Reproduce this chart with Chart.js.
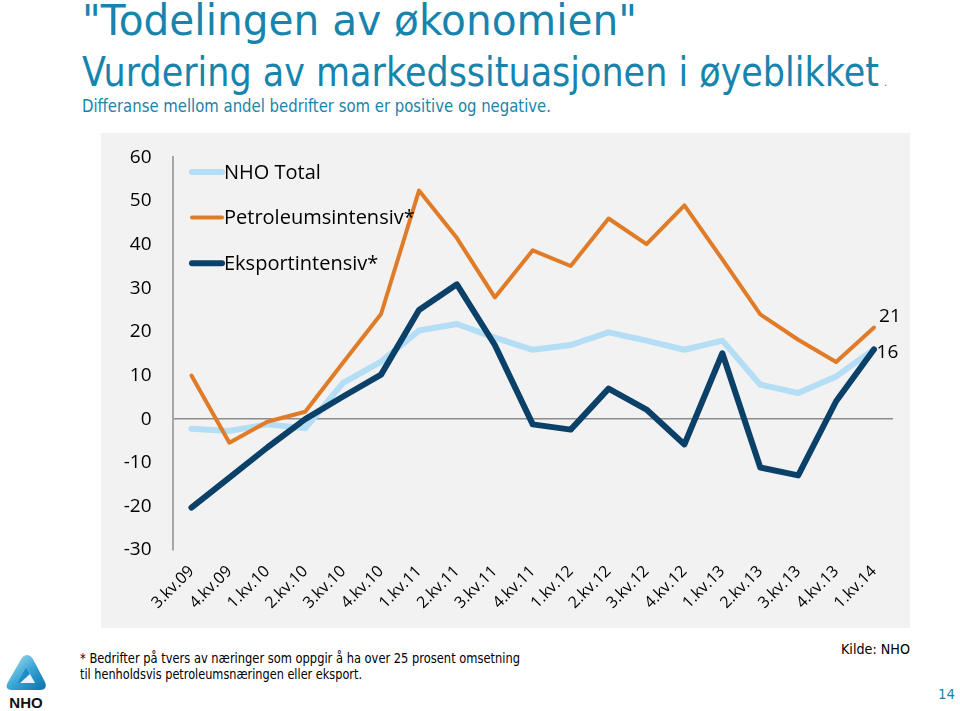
<!DOCTYPE html>
<html>
<head>
<meta charset="utf-8">
<script src="https://cdn.jsdelivr.net/npm/chart.js@4.4.1/dist/chart.umd.min.js"></script>
<style>
  html, body { margin:0; padding:0; background:#fff; }
  body { width:960px; height:711px; position:relative; overflow:hidden; }
  .t { position:absolute; white-space:nowrap; transform-origin:left top; font-family:"DejaVu Sans", Verdana, sans-serif; }
  #chartBox { position:absolute; left:101px; top:133px; width:809px; height:495px; background:#f2f2f2; }
  #chartBox canvas { display:block; position:absolute; left:0; top:-8px; }
  #logo { position:absolute; left:3px; top:652px; width:46px; height:60px; }
</style>
</head>
<body>
<div class="t" data-w="555" style="left:82px; top:0px; font-size:42px; line-height:42px; color:#1784ae;">"Todelingen av økonomien"</div>
<div class="t" data-w="797" style="left:82px; top:52px; font-size:41px; line-height:41px; color:#1784ae;">Vurdering av markedssituasjonen i øyeblikket</div>
<div class="t" style="left:884px; top:78px; font-size:10px; line-height:10px; color:#1784ae;">.</div>
<div class="t" data-w="469" style="left:82px; top:97px; font-size:18px; line-height:18px; color:#1784ae;">Differanse mellom andel bedrifter som er positive og negative.</div>

<div id="chartBox"><canvas id="c" width="809" height="503"></canvas></div>

<div class="t" data-w="440" style="left:80px; top:651px; font-size:14px; line-height:14px; color:#000;">* Bedrifter på tvers av næringer som oppgir å ha over 25 prosent omsetning</div>
<div class="t" data-w="282" style="left:80px; top:667px; font-size:14px; line-height:14px; color:#000;">til henholdsvis petroleumsnæringen eller eksport.</div>
<div class="t" data-w="69" style="left:841px; top:642px; font-size:14px; line-height:14px; color:#000;">Kilde: NHO</div>
<div class="t" data-w="17" style="left:938px; top:687px; font-size:14px; line-height:14px; color:#1784ae;">14</div>

<svg id="logo" viewBox="0 0 46 60" xmlns="http://www.w3.org/2000/svg">
  <defs>
    <linearGradient id="g1" x1="0" y1="0" x2="1" y2="1">
      <stop offset="0" stop-color="#bfe6f5"/>
      <stop offset="0.5" stop-color="#3aa7d6"/>
      <stop offset="1" stop-color="#0b6fa8"/>
    </linearGradient>
  </defs>
  <path d="M24 3 C27 3 29 5 31 9 L42 30 C44 35 42 38 37 38 L9 38 C4 38 2 35 5 30 L17 9 C19 5 21 3 24 3 Z" fill="url(#g1)"/>
  <path d="M23 15 L32 31 L14 31 Z" fill="#e8f6fc"/>
  <path d="M23 15 L27 22 L17 31 L14 31 Z" fill="#1d8cc4"/>
  <text x="23" y="56" text-anchor="middle" font-family="Liberation Sans, Arial, sans-serif" font-weight="bold" font-size="15" fill="#111">NHO</text>
</svg>

<script>
// ---- data ----
const categories = ['3.kv.09','4.kv.09','1.kv.10','2.kv.10','3.kv.10','4.kv.10','1.kv.11','2.kv.11','3.kv.11','4.kv.11','1.kv.12','2.kv.12','3.kv.12','4.kv.12','1.kv.13','2.kv.13','3.kv.13','4.kv.13','1.kv.14'];
const seriesNames = ['NHO Total', 'Petroleumsintensiv*', 'Eksportintensiv*'];
const nhoTotal = [-2.2, -2.7, -1.2, -2.1, 8.3, 13.2, 20.3, 21.8, 18.7, 15.9, 17.0, 19.9, 18.0, 15.9, 18.0, 7.9, 6.0, 9.8, 16];
const petroleum = [10, -5.4, -0.6, 1.7, 13, 24.1, 52.4, 41.5, 27.9, 38.7, 35.1, 46.0, 40.1, 49.0, 36.6, 24.0, 18.2, 13.1, 21];
const eksport = [-20.3, -13.4, -6.5, 0, 5.2, 10.2, 25.0, 30.9, 17.0, -1.2, -2.4, 7.0, 2.2, -5.8, 15.1, -11.1, -12.9, 4.1, 16];
const yTicks = [-30, -20, -10, 0, 10, 20, 30, 40, 50, 60];

// ---- fit text widths ----
document.querySelectorAll('.t[data-w]').forEach(el => {
  const w = el.getBoundingClientRect().width;
  const target = parseFloat(el.dataset.w);
  if (w > 0) el.style.transform = 'scaleX(' + (target / w) + ')';
});

const FONT = "'Open Sans', sans-serif";
const colors = ['#b4def5', '#e07b28', '#0b4169'];
const widths = [6, 4, 6];

const legendPlugin = {
  id: 'inlineLegend',
  afterDatasetsDraw(chart) {
    const ctx = chart.ctx;
    const a = chart.chartArea;
    ctx.save();
    ctx.font = '20px ' + FONT;
    ctx.textBaseline = 'middle';
    ctx.textAlign = 'left';
    chart.data.datasets.forEach((ds, i) => {
      const y = a.top + 14.5 + i * 45.7;
      const x0 = a.left + 19.5;
      ctx.strokeStyle = ds.borderColor;
      ctx.lineWidth = ds.borderWidth;
      ctx.lineCap = 'round';
      ctx.beginPath(); ctx.moveTo(x0, y); ctx.lineTo(x0 + 30, y); ctx.stroke();
      ctx.fillStyle = '#000';
      ctx.fillText(ds.label, x0 + 32, y + 1);
    });
    // end labels
    ctx.font = '19px ' + FONT;
    const offs = {1: [5, -10.5], 2: [2.5, 3]};
    Object.keys(offs).forEach(k => {
      const i = +k;
      const meta = chart.getDatasetMeta(i);
      const pt = meta.data[meta.data.length - 1];
      const ds = chart.data.datasets[i];
      const v = ds.data[ds.data.length - 1];
      ctx.fillStyle = '#000';
      ctx.fillText(String(Math.round(v)), pt.x + offs[k][0], pt.y + offs[k][1]);
    });
    ctx.restore();
  }
};

const mk = (i, data, order) => ({
  label: seriesNames[i], data, borderColor: colors[i], backgroundColor: colors[i],
  borderWidth: widths[i], pointRadius: 0, tension: 0, fill: false,
  borderJoinStyle: 'round', borderCapStyle: 'round', order
});

new Chart(document.getElementById('c'), {
  type: 'line',
  data: {
    labels: categories,
    datasets: [ mk(0, nhoTotal, 3), mk(1, petroleum, 2), mk(2, eksport, 1) ]
  },
  options: {
    responsive: false,
    animation: false,
    layout: { padding: { top: 0, right: 17, left: 0, bottom: 0 } },
    plugins: { legend: { display: false }, tooltip: { enabled: false } },
    scales: {
      x: {
        offset: true,
        grid: { display: false, drawTicks: false },
        border: { display: false },
        ticks: { color: '#000', font: { family: FONT, size: 16 }, minRotation: 45, maxRotation: 45, padding: 12, autoSkip: false },
        afterFit(s) { s.height = 78; }
      },
      y: {
        min: -30, max: 60,
        afterBuildTicks(s) { s.ticks = yTicks.map(v => ({ value: v })); },
        grid: {
          drawTicks: false,
          color: c => (c.tick && c.tick.value === 0) ? '#8c8c8c' : 'rgba(0,0,0,0)',
          lineWidth: 1.5
        },
        border: { display: true, color: '#a6a6a6', width: 2 },
        ticks: { color: '#000', font: { family: FONT, size: 19 }, padding: 21 },
        afterFit(s) { s.width = 71.5; }
      }
    }
  },
  plugins: [legendPlugin]
});
</script>
</body>
</html>
